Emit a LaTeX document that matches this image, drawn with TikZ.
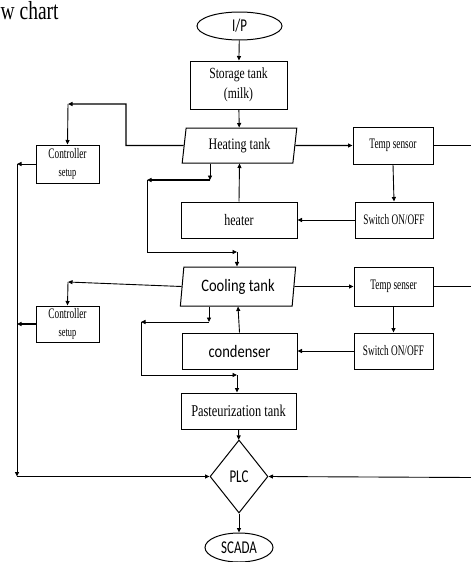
\documentclass[tikz,border=0pt]{standalone}
\usepackage{fontspec}
\setmainfont{Liberation Serif}[FakeStretch=0.75]
\newfontfamily\narrowserif{Liberation Serif}[FakeStretch=0.64]
\newfontfamily\roundsans{Carlito}[FakeStretch=0.83]
\newfontfamily\ovalsans{Carlito}[FakeStretch=0.72]
\usetikzlibrary{arrows.meta,shapes.geometric,calc}

\begin{document}
\begin{tikzpicture}[x=1pt,y=-1pt,
  frame/.style={draw,line width=1pt,inner sep=1pt,align=center},
  box/.style={frame,rectangle,font=\fontsize{15.5}{20}\selectfont},
  smallbox/.style={frame,rectangle,font=\narrowserif\fontsize{14.5}{18}\selectfont},
  tank/.style={frame,trapezium,trapezium left angle=82,trapezium right angle=98,
    trapezium stretches=true},
  oval/.style={frame,ellipse,inner sep=0pt,font=\ovalsans\fontsize{18}{20}\selectfont},
  decision/.style={frame,diamond,inner sep=0pt,font=\ovalsans\fontsize{18}{20}\selectfont},
  link/.style={line width=0.9pt,-{Triangle[length=4.5pt,width=4pt]}},
  thick link/.style={link,line width=1.4pt},
  plain/.style={line width=0.9pt},
]
\useasboundingbox (0,0) rectangle (471,562);

% title fragment
\node[anchor=base west,inner sep=0pt,font=\fontsize{26}{28}\selectfont] (title) at (0.5,19.5) {w chart};

% main column
\node[oval,minimum width=85pt,minimum height=28pt] (ip) at (239.5,26) {I/P};
\node[box,minimum width=97pt,minimum height=48pt] (store) at (238.5,85) {Storage tank\\(milk)};
\node[tank,minimum width=115pt,minimum height=35pt,font=\fontsize{16}{18}\selectfont] (heat) at (239.5,145.5) {Heating tank};
\node[box,minimum width=116pt,minimum height=36pt,font=\fontsize{16}{18}\selectfont] (heater) at (239,220) {heater};
\node[tank,minimum width=116pt,minimum height=39pt,font=\roundsans\fontsize{17.5}{20}\selectfont] (cool) at (238,286.5) {Cooling tank};
\node[box,minimum width=115pt,minimum height=36pt,font=\roundsans\fontsize{17.5}{20}\selectfont] (cond) at (239.5,351) {condenser};
\node[box,minimum width=115pt,minimum height=36pt,font=\fontsize{16.5}{18}\selectfont] (past) at (238.5,411) {Pasteurization tank};
\node[decision,minimum width=58pt,minimum height=73pt] (plc) at (239,476.5) {PLC};
\node[oval,minimum width=68pt,minimum height=29pt] (scada) at (239,547.5) {SCADA};

% sensing branch on the right
\node[smallbox,minimum width=80pt,minimum height=37pt] (temp1) at (393,145.5) {Temp sensor};
\node[smallbox,minimum width=78pt,minimum height=36pt] (sw1) at (394,220) {Switch ON/OFF};
\node[smallbox,minimum width=79pt,minimum height=39pt] (temp2) at (393.5,286.5) {Temp senser};
\node[smallbox,minimum width=79pt,minimum height=36pt] (sw2) at (393.5,351) {Switch ON/OFF};

% controller setups on the left
\node[smallbox,minimum width=63pt,minimum height=38pt] (ctrl1) at (67.5,164) {Controller\\{\fontsize{13}{16}\selectfont setup}};
\node[smallbox,minimum width=63pt,minimum height=36pt] (ctrl2) at (67.5,324) {Controller\\{\fontsize{13}{16}\selectfont setup}};

% routing points
\coordinate (hA) at (126,145.5);
\coordinate (hB) at (68,104);
\coordinate (hC) at (210,180);
\coordinate (hD) at (147,180);
\coordinate (hE) at (237,252);
\coordinate (cA) at (68,282);
\coordinate (cC) at (209,322);
\coordinate (cD) at (141,322);
\coordinate (cE) at (237,375);
\coordinate (lA) at (17,164);
\coordinate (lB) at (17,324);
\coordinate (lC) at (17,476.5);
\coordinate (r1) at (471,145.5);
\coordinate (r2) at (471,286.5);
\coordinate (r3) at (471,477.5);

% main flow
\draw[link] (ip) -- (store);
\draw[link] (store) -- (heat);
\draw[link] (past) -- (plc);
\draw[link] (plc) -- (scada);

% heating stage
\draw[thick link] (heat.west) -- (hA) |- (hB);
\draw[link] (hB) -- (ctrl1.north);
\draw[thick link] (heat.east) -- (temp1.west);
\draw[thick link,-] (temp1.east) -- (r1);
\draw[link] (temp1.south) -- (sw1.north);
\draw[link] (sw1.west) -- (heater.east);
\draw[link] (heater.north) -- (heat.south);
\draw[link] (heat.south -| hC) -- (hC);
\draw[thick link] (hC) -- (hD);
\draw[link] (hD) |- (hE);
\draw[link] (hE) -- (hE |- cool.north);

% cooling stage
\draw[link] (cool.west) -- (cA);
\draw[link] (cA) -- (ctrl2.north);
\draw[link] (cool.east) -- (temp2.west);
\draw[plain] (temp2.east) -- (r2);
\draw[link] (temp2.south) -- (sw2.north);
\draw[link] (sw2.west) -- (cond.east);
\draw[link] (cond.north) -- (cool.south);
\draw[link] (cool.south -| cC) -- (cC);
\draw[link] (cC) -- (cD);
\draw[link] (cD) |- (cE);
\draw[link] (cE) -- (cE |- past.north);

% controller lines to the PLC
\draw[link] (ctrl1.west) -- (lA);
\draw[thick link] (ctrl2.west) -- (lB);
\draw[link] (lA) -- (lC);
\draw[thick link] (lC) -- (plc.west);
\draw[link] (r3) -- (plc.east);
\end{tikzpicture}
\end{document}
